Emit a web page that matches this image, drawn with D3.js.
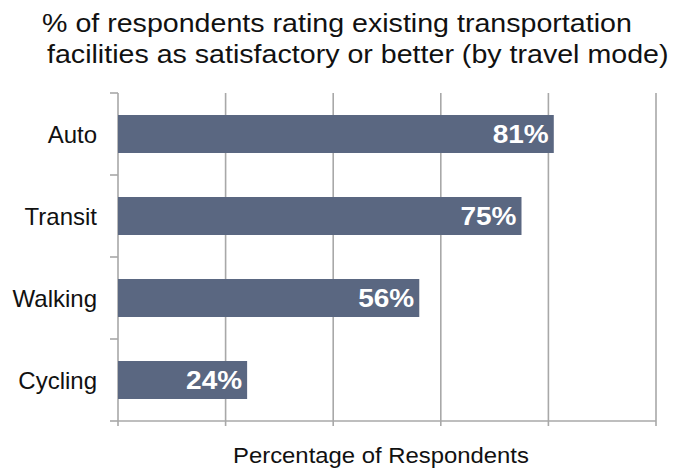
<!DOCTYPE html>
<html><head><meta charset="utf-8">
<script src="https://cdn.jsdelivr.net/npm/d3@7"></script>
<style>body{margin:0;background:#fff;} svg{display:block;}</style>
</head><body>
<svg id="c" width="678" height="468"></svg>
<script>
const categories = ["Auto", "Transit", "Walking", "Cycling"];
const values = [81, 75, 56, 24];
const labels = ["81%", "75%", "56%", "24%"];
const xTicks = [0, 20, 40, 60, 80, 100];
const titleLines = ["% of respondents rating existing transportation", "facilities as satisfactory or better (by travel mode)"];
const xTitle = "Percentage of Respondents";

const svg = d3.select("#c");
const font = "'Liberation Sans', Arial, sans-serif";
const mLeft = 118, mRight = 656, mTop = 93, mBottom = 421;

const x = d3.scaleLinear().domain([0, 100]).range([mLeft, mRight]);
const p = 44/82;
const y = d3.scaleBand().domain(categories).range([mTop, mBottom]).paddingInner(p).paddingOuter(p/2);

function stretch(sel, f) {
  sel.each(function() {
    const w = this.getComputedTextLength();
    d3.select(this).attr("textLength", w * f).attr("lengthAdjust", "spacingAndGlyphs");
  });
}

const gridColor = "#a8a8a8";
// gridlines
svg.append("g").selectAll("line").data(xTicks.slice(1)).join("line")
  .attr("x1", d => x(d)).attr("x2", d => x(d))
  .attr("y1", mTop).attr("y2", mBottom + 5)
  .attr("stroke", gridColor).attr("stroke-width", 1.6);

// bottom axis
svg.append("line").attr("x1", x(0)).attr("x2", x(100)).attr("y1", mBottom).attr("y2", mBottom)
  .attr("stroke", gridColor).attr("stroke-width", 1.6);
svg.append("line").attr("x1", x(0)).attr("x2", x(0)).attr("y1", mBottom).attr("y2", mBottom + 5)
  .attr("stroke", gridColor).attr("stroke-width", 1.6);

// left axis
svg.append("line").attr("x1", mLeft).attr("x2", mLeft).attr("y1", mTop).attr("y2", mBottom)
  .attr("stroke", gridColor).attr("stroke-width", 1.6);
const catTicks = [mTop].concat(categories.map(c => y(c) + y.bandwidth() + y.step()*p/2));
svg.append("g").selectAll("line").data(catTicks).join("line")
  .attr("x1", mLeft - 8).attr("x2", mLeft).attr("y1", d => d).attr("y2", d => d)
  .attr("stroke", gridColor).attr("stroke-width", 1.6);

// bars
svg.append("g").selectAll("rect").data(categories).join("rect")
  .attr("x", x(0)).attr("y", d => y(d))
  .attr("width", (d, i) => x(values[i]) - x(0)).attr("height", y.bandwidth())
  .attr("fill", "#5a6781");

// value labels
svg.append("g").selectAll("text").data(categories).join("text")
  .attr("x", (d, i) => x(values[i]) - 5).attr("y", d => y(d) + y.bandwidth()/2)
  .attr("dy", "0.36em").attr("text-anchor", "end")
  .attr("fill", "#fff").attr("font-family", font).attr("font-weight", "bold").attr("font-size", 25)
  .text((d, i) => labels[i])
  .call(stretch, 1.12);

// category labels
svg.append("g").selectAll("text").data(categories).join("text")
  .attr("x", 97).attr("y", d => y(d) + y.bandwidth()/2)
  .attr("dy", "0.36em").attr("text-anchor", "end")
  .attr("fill", "#111").attr("font-family", font).attr("font-size", 24)
  .text(d => d);

// title
svg.append("g").selectAll("text").data(titleLines).join("text")
  .attr("x", (d, i) => i === 0 ? 42 : 47).attr("y", (d, i) => 32 + i*31)
  .attr("text-anchor", "start").attr("fill", "#111")
  .attr("font-family", font).attr("font-size", 26)
  .text(d => d)
  .call(stretch, 1.10);

// x title
svg.append("text").attr("x", 233).attr("y", 463).attr("text-anchor", "start")
  .attr("fill", "#111").attr("font-family", font).attr("font-size", 22).text(xTitle)
  .call(stretch, 1.085);
</script>
</body></html>
